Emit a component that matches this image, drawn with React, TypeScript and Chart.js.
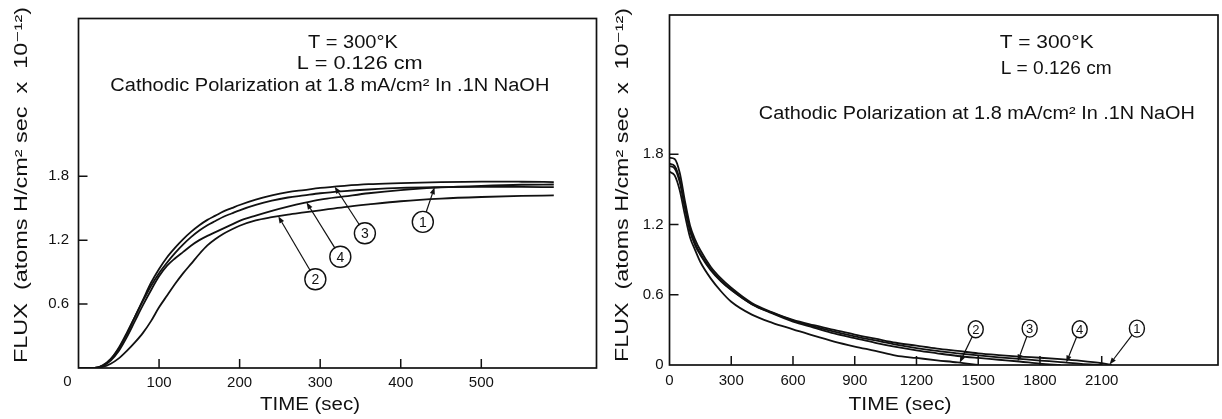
import { useEffect, useRef } from "react";
import { Chart, registerables } from "chart.js";

Chart.register(...registerables);

const INK = "#111111";
const FONT = "'Liberation Sans', 'DejaVu Sans', sans-serif";

// Build-up transient: flux (x 10^-12 atoms H/cm^2 sec) vs time (sec)
const riseTime = [0, 10, 20, 30, 40, 50, 60, 70, 80, 90, 100, 110, 120, 130, 140, 150, 160, 170, 180, 190, 200, 220, 240, 260, 280, 300, 330, 360, 400, 450, 500, 550, 590];
const riseRun1 = [0, 0, 0, 0.025, 0.085, 0.19, 0.33, 0.48, 0.63, 0.77, 0.89, 0.99, 1.08, 1.16, 1.23, 1.29, 1.34, 1.38, 1.42, 1.45, 1.48, 1.53, 1.57, 1.6, 1.62, 1.64, 1.66, 1.675, 1.69, 1.697, 1.7, 1.7, 1.697];
const riseRun2 = [0, 0, 0, 0.01, 0.04, 0.09, 0.16, 0.24, 0.33, 0.44, 0.57, 0.68, 0.79, 0.89, 0.98, 1.07, 1.15, 1.21, 1.26, 1.3, 1.335, 1.385, 1.415, 1.44, 1.46, 1.48, 1.51, 1.535, 1.565, 1.59, 1.605, 1.615, 1.62];
const riseRun3 = [0, 0, 0, 0.02, 0.08, 0.18, 0.32, 0.48, 0.64, 0.8, 0.93, 1.04, 1.13, 1.21, 1.28, 1.34, 1.39, 1.43, 1.47, 1.5, 1.53, 1.58, 1.62, 1.65, 1.67, 1.69, 1.71, 1.725, 1.735, 1.745, 1.75, 1.748, 1.745];
const riseRun4 = [0, 0, 0, 0.02, 0.07, 0.16, 0.29, 0.44, 0.59, 0.73, 0.86, 0.96, 1.03, 1.09, 1.15, 1.2, 1.24, 1.275, 1.31, 1.345, 1.38, 1.43, 1.475, 1.515, 1.55, 1.58, 1.61, 1.64, 1.67, 1.695, 1.71, 1.72, 1.722];
const riseXTicks = [100, 200, 300, 400, 500];
const riseYTicks = [0.6, 1.2, 1.8];

// Decay transient after charging is interrupted
const decayTime = [0, 25, 50, 75, 100, 125, 150, 200, 250, 300, 400, 500, 600, 700, 800, 900, 1000, 1100, 1200, 1300, 1400, 1500, 1600, 1700, 1800, 1900, 2000, 2100, 2150];
const decayRun1 = [1.77, 1.76, 1.64, 1.4, 1.19, 1.07, 0.98, 0.84, 0.74, 0.66, 0.53, 0.45, 0.385, 0.34, 0.3, 0.26, 0.225, 0.19, 0.165, 0.14, 0.12, 0.1, 0.085, 0.072, 0.062, 0.05, 0.035, 0.015, 0];
const decayRun2 = [1.65, 1.62, 1.49, 1.28, 1.09, 0.98, 0.88, 0.74, 0.63, 0.54, 0.43, 0.36, 0.305, 0.25, 0.2, 0.158, 0.12, 0.08, 0.06, 0.04, 0.022, 0];
const decayRun3 = [1.72, 1.7, 1.58, 1.36, 1.16, 1.04, 0.95, 0.82, 0.72, 0.645, 0.52, 0.44, 0.37, 0.32, 0.27, 0.23, 0.19, 0.155, 0.125, 0.1, 0.077, 0.06, 0.045, 0.03, 0.012, 0];
const decayRun4 = [1.7, 1.68, 1.56, 1.34, 1.14, 1.02, 0.94, 0.81, 0.715, 0.64, 0.52, 0.445, 0.38, 0.33, 0.285, 0.245, 0.21, 0.175, 0.145, 0.12, 0.1, 0.082, 0.066, 0.052, 0.038, 0.025, 0.01, 0];
const decayXTicks = [0, 300, 600, 900, 1200, 1500, 1800, 2100];
const decayYTicks = [0, 0.6, 1.2, 1.8];

const tempLine = "T = 300°K";
const lengthLine = "L = 0.126 cm";
const chargingLine = "Cathodic Polarization at 1.8 mA/cm² In .1N NaOH";
const yTitle = "FLUX  (atoms H/cm² sec  x  10⁻¹²)";
const xTitle = "TIME (sec)";

type Note = { text: string; x: number; y: number; w: number; align: "left" | "center" };
type Tag = { label: string; run: number; x: number; y: number; tipX: number };
type Panel = {
  time: number[];
  runs: number[][];
  xMax: number;
  yMax: number;
  xTicks: number[];
  yTicks: number[];
  yAxisW: number;
  xAxisH: number;
  padTop: number;
  padRight: number;
  xLabelPad: number;
  yLabelPad: number;
  notes: Note[];
  tags: Tag[];
  tagRx: number;
  tagRy: number;
  tagFont: number;
  yTitlePos: { x: number; y: number; w: number };
  xTitlePos: { x: number; y: number; w: number };
  originLabel: boolean;
};

const risePanel: Panel = {
  time: riseTime,
  runs: [riseRun1, riseRun2, riseRun3, riseRun4],
  xMax: 643,
  yMax: 3.28,
  xTicks: riseXTicks,
  yTicks: riseYTicks,
  yAxisW: 78.5,
  xAxisH: 51,
  padTop: 9.3,
  padRight: 14.5,
  xLabelPad: 5.5,
  yLabelPad: 9.5,
  notes: [
    { text: tempLine, x: 340.6, y: 3.05, w: 90, align: "center" },
    { text: lengthLine, x: 349, y: 2.85, w: 126, align: "center" },
    { text: chargingLine, x: 312, y: 2.65, w: 439, align: "center" },
  ],
  tags: [
    { label: "1", run: 0, x: 427.4, y: 1.371, tipX: 442 },
    { label: "3", run: 2, x: 355.5, y: 1.264, tipX: 318 },
    { label: "4", run: 3, x: 325, y: 1.044, tipX: 283 },
    { label: "2", run: 1, x: 294, y: 0.833, tipX: 248 },
  ],
  tagRx: 10.5,
  tagRy: 10.5,
  tagFont: 14,
  yTitlePos: { x: 22, y: 185, w: 356 },
  xTitlePos: { x: 310, y: 405, w: 100 },
  originLabel: true,
};

const decayPanel: Panel = {
  time: decayTime,
  runs: [decayRun1, decayRun2, decayRun3, decayRun4],
  xMax: 2665,
  yMax: 2.99,
  xTicks: decayXTicks,
  yTicks: decayYTicks,
  yAxisW: 58.5,
  xAxisH: 54,
  padTop: 6.7,
  padRight: 4,
  xLabelPad: 7,
  yLabelPad: 6,
  notes: [
    { text: tempLine, x: 1604, y: 2.75, w: 94, align: "left" },
    { text: lengthLine, x: 1609, y: 2.525, w: 111, align: "left" },
    { text: chargingLine, x: 434, y: 2.14, w: 436, align: "left" },
  ],
  tags: [
    { label: "2", run: 1, x: 1488, y: 0.306, tipX: 1410 },
    { label: "3", run: 2, x: 1750, y: 0.311, tipX: 1692 },
    { label: "4", run: 3, x: 1993, y: 0.306, tipX: 1928 },
    { label: "1", run: 0, x: 2271, y: 0.311, tipX: 2138 },
  ],
  tagRx: 7.5,
  tagRy: 8.5,
  tagFont: 13,
  yTitlePos: { x: 12, y: 185, w: 354 },
  xTitlePos: { x: 289, y: 405, w: 103 },
  originLabel: false,
};

function valueAt(time: number[], values: number[], t: number): number {
  for (let i = 1; i < values.length; i++) {
    if (time[i] >= t) {
      const f = (t - time[i - 1]) / (time[i] - time[i - 1]);
      return values[i - 1] + f * (values[i] - values[i - 1]);
    }
  }
  return values[values.length - 1];
}

function fitText(ctx: CanvasRenderingContext2D, text: string, x: number, y: number, w: number, align: "left" | "center", rotate = false) {
  const natural = ctx.measureText(text).width;
  const sx = w / natural;
  ctx.save();
  ctx.translate(x, y);
  if (rotate) ctx.rotate(-Math.PI / 2);
  ctx.scale(sx, 1);
  ctx.textAlign = align;
  ctx.textBaseline = "middle";
  ctx.fillText(text, 0, 0);
  ctx.restore();
}

const panelDecor = {
  id: "panelDecor",
  afterDatasetsDraw(chart: any, _args: any, opts: any) {
    const p: Panel = opts.panel;
    const { ctx, chartArea: a, scales } = chart;
    const xs = scales.x;
    const ys = scales.y;
    ctx.save();
    ctx.strokeStyle = INK;
    ctx.fillStyle = INK;

    // frame
    ctx.lineWidth = 1.7;
    ctx.strokeRect(a.left, a.top, a.right - a.left, a.bottom - a.top);

    // inward tick marks
    ctx.lineWidth = 1.5;
    ctx.beginPath();
    for (const t of xs.ticks) {
      if (t.value <= xs.min) continue;
      const px = xs.getPixelForValue(t.value);
      ctx.moveTo(px, a.bottom);
      ctx.lineTo(px, a.bottom - 9);
    }
    for (const t of ys.ticks) {
      if (t.value <= ys.min) continue;
      const py = ys.getPixelForValue(t.value);
      ctx.moveTo(a.left, py);
      ctx.lineTo(a.left + 9, py);
    }
    ctx.stroke();

    if (p.originLabel) {
      ctx.font = `15px ${FONT}`;
      ctx.textAlign = "center";
      ctx.textBaseline = "middle";
      ctx.fillText("0", a.left - 11, a.bottom + 14);
    }

    // condition notes
    ctx.font = `18px ${FONT}`;
    for (const n of p.notes) {
      fitText(ctx, n.text, xs.getPixelForValue(n.x), ys.getPixelForValue(n.y), n.w, n.align);
    }

    // axis titles
    fitText(ctx, yTitle, p.yTitlePos.x, p.yTitlePos.y, p.yTitlePos.w, "center", true);
    fitText(ctx, xTitle, p.xTitlePos.x, p.xTitlePos.y, p.xTitlePos.w, "center");

    // run tags with leader arrows
    for (const tag of p.tags) {
      const cx = xs.getPixelForValue(tag.x);
      const cy = ys.getPixelForValue(tag.y);
      const tipV = valueAt(p.time, p.runs[tag.run], tag.tipX);
      const tx = xs.getPixelForValue(tag.tipX);
      const ty = ys.getPixelForValue(tipV);
      ctx.lineWidth = 1.4;
      ctx.beginPath();
      ctx.ellipse(cx, cy, p.tagRx, p.tagRy, 0, 0, Math.PI * 2);
      ctx.stroke();
      ctx.font = `${p.tagFont}px ${FONT}`;
      ctx.textAlign = "center";
      ctx.textBaseline = "middle";
      ctx.fillText(tag.label, cx, cy + 1);

      const dx = tx - cx;
      const dy = ty - cy;
      const ang = Math.atan2(dy, dx);
      const k = 1 / Math.sqrt((Math.cos(ang) / p.tagRx) ** 2 + (Math.sin(ang) / p.tagRy) ** 2);
      const sx = cx + Math.cos(ang) * k;
      const sy = cy + Math.sin(ang) * k;
      const len = 7;
      const hw = 2.6;
      const bx = tx - Math.cos(ang) * len;
      const by = ty - Math.sin(ang) * len;
      ctx.lineWidth = 1.2;
      ctx.beginPath();
      ctx.moveTo(sx, sy);
      ctx.lineTo(bx, by);
      ctx.stroke();
      ctx.beginPath();
      ctx.moveTo(tx, ty);
      ctx.lineTo(bx - Math.sin(ang) * hw, by + Math.cos(ang) * hw);
      ctx.lineTo(bx + Math.sin(ang) * hw, by - Math.cos(ang) * hw);
      ctx.closePath();
      ctx.fill();
    }
    ctx.restore();
  },
};

function buildConfig(p: Panel): any {
  const datasets = p.runs.map((values) => ({
    data: values.map((v, i) => ({ x: p.time[i], y: v })),
    borderColor: INK,
    borderWidth: 1.8,
    pointRadius: 0,
    fill: false,
    cubicInterpolationMode: "monotone",
  }));
  const tickFont = { family: FONT, size: 15 };
  return {
    type: "line",
    data: { datasets },
    plugins: [panelDecor],
    options: {
      animation: false,
      responsive: false,
      maintainAspectRatio: false,
      events: [],
      layout: { padding: { left: 0, right: p.padRight, top: p.padTop, bottom: 0 } },
      plugins: {
        legend: { display: false },
        tooltip: { enabled: false },
        panelDecor: { panel: p },
      },
      scales: {
        x: {
          type: "linear",
          min: 0,
          max: p.xMax,
          grid: { display: false, drawTicks: false },
          border: { display: false },
          afterBuildTicks: (ax: any) => {
            ax.ticks = p.xTicks.map((v) => ({ value: v }));
          },
          afterFit: (ax: any) => {
            ax.height = p.xAxisH;
          },
          ticks: {
            color: INK,
            font: tickFont,
            padding: p.xLabelPad,
            maxRotation: 0,
            autoSkip: false,
            callback: (v: any) => String(v),
          },
        },
        y: {
          type: "linear",
          min: 0,
          max: p.yMax,
          grid: { display: false, drawTicks: false },
          border: { display: false },
          afterBuildTicks: (ax: any) => {
            ax.ticks = p.yTicks.map((v) => ({ value: v }));
          },
          afterFit: (ax: any) => {
            ax.width = p.yAxisW;
          },
          ticks: {
            color: INK,
            font: tickFont,
            padding: p.yLabelPad,
            autoSkip: false,
            callback: (v: any) => (Number(v) === 0 ? "0" : Number(v).toFixed(1)),
          },
        },
      },
    },
  };
}

function PanelChart({ panel, left }: { panel: Panel; left: number }) {
  const ref = useRef<HTMLCanvasElement | null>(null);
  useEffect(() => {
    if (!ref.current) return;
    const chart = new Chart(ref.current, buildConfig(panel));
    return () => chart.destroy();
  }, [panel]);
  return (
    <canvas
      ref={ref}
      width={611}
      height={419}
      style={{ position: "absolute", left, top: 0, width: 611, height: 419, display: "block" }}
    />
  );
}

export default function App() {
  return (
    <div style={{ position: "fixed", left: 0, top: 0, width: 1222, height: 419, background: "#ffffff" }}>
      <PanelChart panel={risePanel} left={0} />
      <PanelChart panel={decayPanel} left={611} />
    </div>
  );
}
